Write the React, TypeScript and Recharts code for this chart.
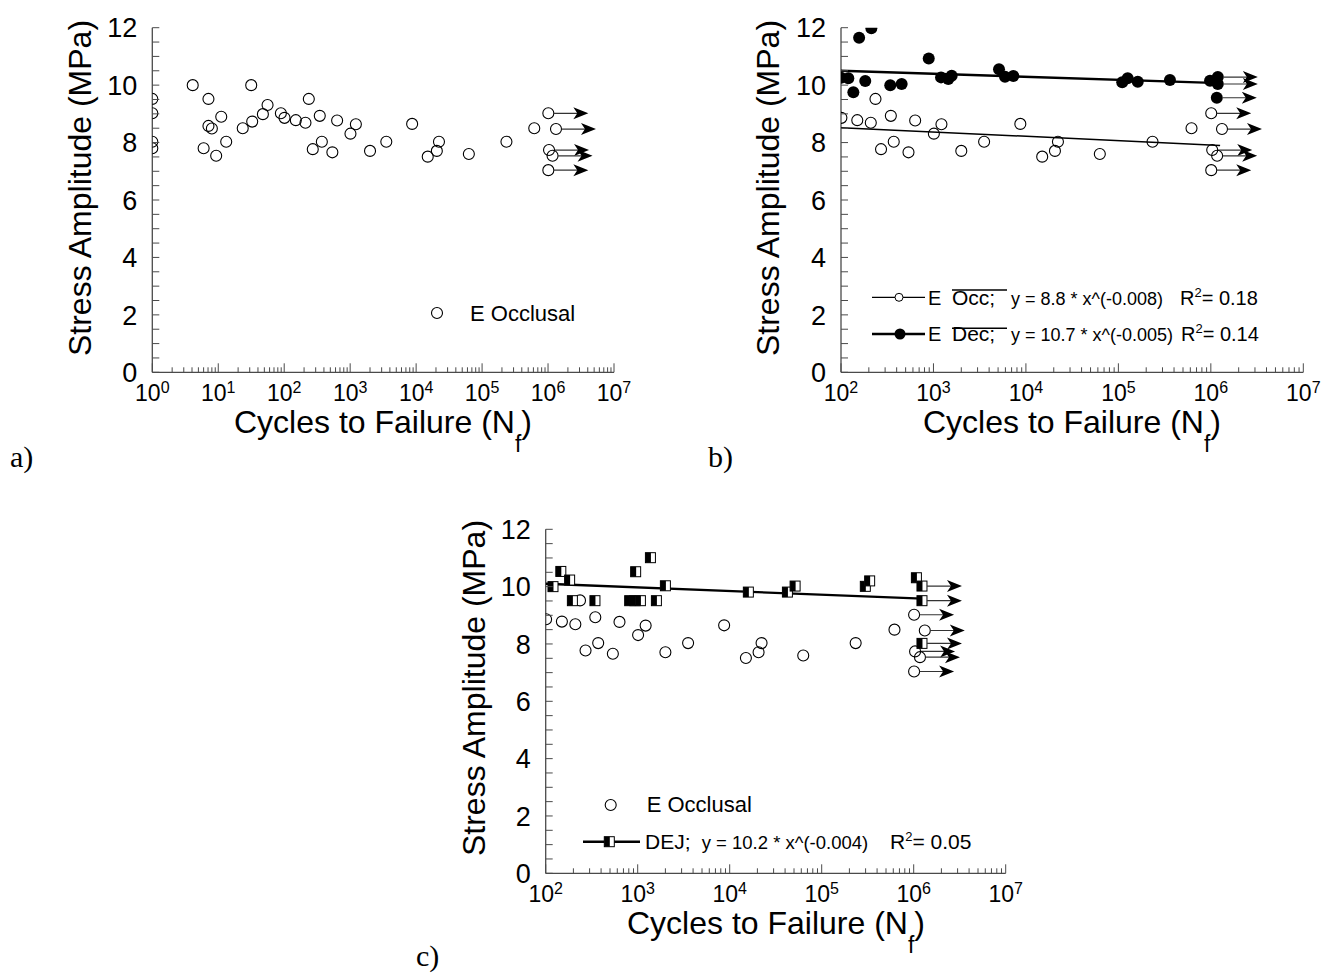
import React from "react";
import { ScatterChart, Scatter, XAxis, YAxis } from "recharts";

const SANS = '"Liberation Sans", Arial, Helvetica, sans-serif';
const SERIF = '"Liberation Serif", "Times New Roman", serif';
const AXIS = "#4a4a4a";

// tick labels
const stressLabels = [0, 2, 4, 6, 8, 10, 12];
const minorSteps = [2, 3, 4, 5, 6, 7, 8, 9];

// E Occlusal, failed specimens (cycles, MPa)
const occCycles = [1, 1, 1, 1, 4.1, 6.0, 7.1, 7.1, 8.0, 9.3, 11.1, 13.2, 23.5, 31.6, 32.7, 47.5, 55.9, 89, 101, 150, 210, 236, 271, 346, 372, 537, 634, 1010, 1220, 2000, 3530, 8700, 15000, 20600, 22200, 63000, 234000, 618000];
const occStress = [9.52, 9.02, 8.03, 7.8, 10.0, 7.8, 9.52, 8.58, 8.49, 7.54, 8.9, 8.03, 8.5, 10.0, 8.73, 8.99, 9.31, 9.02, 8.86, 8.78, 8.69, 9.52, 7.77, 8.93, 8.03, 7.66, 8.77, 8.31, 8.64, 7.71, 8.03, 8.65, 7.51, 7.71, 8.03, 7.6, 8.03, 8.5];
// E Occlusal run-outs
const occRunCycles = [1.01e6, 1.32e6, 1.035e6, 1.17e6, 1.01e6];
const occRunStress = [9.02, 8.47, 7.74, 7.54, 7.04];

// E Dec
const decCycles = [100, 120, 136, 157, 183, 213, 341, 453, 889, 1208, 1447, 1574, 5117, 5944, 7311, 110000, 126000, 162000, 361000, 980000];
const decStress = [10.26, 10.24, 9.75, 11.65, 10.14, 11.98, 10.0, 10.04, 10.93, 10.27, 10.21, 10.33, 10.55, 10.29, 10.32, 10.1, 10.24, 10.12, 10.18, 10.15];
const decRunCycles = [1.19e6, 1.19e6, 1.16e6];
const decRunStress = [10.28, 10.04, 9.56];

// DEJ
const dejCycles = [120, 146, 182, 195, 343, 818, 934, 1070, 950, 1375, 1597, 2000, 15950, 42400, 51400, 298000, 332000, 1.07e6];
const dejStress = [10.0, 10.53, 10.23, 9.51, 9.51, 9.51, 9.51, 9.51, 10.52, 11.01, 9.51, 10.03, 9.81, 9.81, 10.02, 10.01, 10.2, 10.31];
const dejRunCycles = [1.23e6, 1.23e6, 1.23e6];
const dejRunStress = [10.02, 9.51, 8.02];

// fitted lines, end points
const occFitCycles = [100, 1.26e6];
const occFitStress = [8.52, 7.9];
const decFitCycles = [100, 1.26e6];
const decFitStress = [10.5, 10.07];
const dejFitCycles = [100, 1.24e6];
const dejFitStress = [10.1, 9.58];

type Pt = { x: number; y: number };
const zip = (xs: number[], ys: number[]): Pt[] => xs.map((x, i) => ({ x, y: ys[i] }));

const occ = zip(occCycles, occStress);
const occRun = zip(occRunCycles, occRunStress);
const dec = zip(decCycles, decStress);
const decRun = zip(decRunCycles, decRunStress);
const dej = zip(dejCycles, dejStress);
const dejRun = zip(dejRunCycles, dejRunStress);
const occFit = zip(occFitCycles, occFitStress);
const decFit = zip(decFitCycles, decFitStress);
const dejFit = zip(dejFitCycles, dejFitStress);

const logTicks = (from: number, to: number) => {
  const out: number[] = [];
  for (let e = from; e <= to; e++) {
    out.push(10 ** e);
    if (e < to) minorSteps.forEach((m) => out.push(m * 10 ** e));
  }
  return out;
};
const yTicks = stressLabels.flatMap((v) => (v < 12 ? [v, v + 0.5, v + 1, v + 1.5] : [v]));

function XTick(props: any) {
  const { x, y, payload } = props;
  const lg = Math.log10(payload.value);
  const e = Math.round(lg);
  const major = Math.abs(lg - e) < 1e-9;
  return (
    <g>
      <line x1={x} x2={x} y1={y} y2={y - (major ? 9 : 5)} stroke={AXIS} strokeWidth={1} />
      {major && (
        <text x={x} y={y + 28.5} textAnchor="middle" fontFamily={SANS} fill="#000">
          <tspan fontSize={23}>10</tspan>
          <tspan fontSize={16} dy={-8}>{e}</tspan>
        </text>
      )}
    </g>
  );
}

function YTick(props: any) {
  const { x, y, payload } = props;
  const v = payload.value;
  return (
    <g>
      <line x1={x} x2={x + 7} y1={y} y2={y} stroke={AXIS} strokeWidth={1} />
      {stressLabels.includes(v) && (
        <text x={x - 15} y={y} dy="0.36em" textAnchor="end" fontSize={27} fontFamily={SANS} fill="#000">
          {v}
        </text>
      )}
    </g>
  );
}

const OpenCircle = (p: any) => <circle cx={p.cx} cy={p.cy} r={5.5} fill="none" stroke="#000" strokeWidth={1.1} />;
const FilledCircle = (p: any) => <circle cx={p.cx} cy={p.cy} r={6} fill="#000" />;
const HalfSquare = ({ cx, cy }: any) => (
  <g>
    <rect x={cx - 5} y={cy - 5} width={10} height={10} fill="#fff" stroke="#000" strokeWidth={1} />
    <rect x={cx - 5} y={cy - 5} width={5.5} height={10} fill="#000" />
  </g>
);
const arrow = (cx: number, cy: number, start: number) => (
  <g>
    <line x1={cx + start} x2={cx + 32} y1={cy} y2={cy} stroke="#333" strokeWidth={1.2} />
    <path d={`M${cx + 40},${cy} L${cx + 25},${cy - 6} L${cx + 29},${cy} L${cx + 25},${cy + 6} Z`} fill="#000" />
  </g>
);
const OpenRunout = (p: any) => (
  <g>
    <OpenCircle {...p} />
    {arrow(p.cx, p.cy, 5.5)}
  </g>
);
const FilledRunout = (p: any) => (
  <g>
    <FilledCircle {...p} />
    {arrow(p.cx, p.cy, 6)}
  </g>
);
const SquareRunout = (p: any) => (
  <g>
    <HalfSquare {...p} />
    {arrow(p.cx, p.cy, 5)}
  </g>
);
const NoDot = () => <g />;

function Panel({ left, top, width, height, margin, xFrom, children }: any) {
  return (
    <div style={{ position: "absolute", left, top }}>
      <ScatterChart width={width} height={height} margin={margin}>
        <XAxis
          type="number"
          dataKey="x"
          scale="log"
          domain={[10 ** xFrom, 1e7]}
          allowDataOverflow
          ticks={logTicks(xFrom, 7)}
          interval={0}
          tick={XTick}
          tickLine={false}
          tickSize={0}
          tickMargin={0}
          axisLine={{ stroke: AXIS, strokeWidth: 1.3 }}
          height={40}
        />
        <YAxis
          type="number"
          dataKey="y"
          domain={[0, 12]}
          allowDataOverflow
          ticks={yTicks}
          interval={0}
          tick={YTick}
          tickLine={false}
          tickSize={0}
          tickMargin={0}
          axisLine={{ stroke: AXIS, strokeWidth: 1.3 }}
          width={60}
        />
        {children}
      </ScatterChart>
    </div>
  );
}

const txt = { fontFamily: SANS, fill: "#000" } as const;

function XTitle({ x, y }: { x: number; y: number }) {
  return (
    <text x={x} y={y} textAnchor="middle" fontSize={32} {...txt}>
      Cycles to Failure (N
      <tspan fontSize={23} dy={19}>f</tspan>
      <tspan dy={-19}>)</tspan>
    </text>
  );
}
function YTitle({ x, y }: { x: number; y: number }) {
  return (
    <text transform={`translate(${x},${y}) rotate(-90)`} textAnchor="middle" fontSize={32} {...txt}>
      Stress Amplitude (MPa)
    </text>
  );
}
function R2({ x, y, v, size = 20 }: { x: number; y: number; v: string; size?: number }) {
  return (
    <text x={x} y={y} fontSize={size} {...txt}>
      R<tspan fontSize={13} dy={-8}>2</tspan>
      <tspan dy={8}>= {v}</tspan>
    </text>
  );
}

export default function App() {
  const occLate = occ.filter((d) => d.x >= 100);
  return (
    <div style={{ position: "absolute", left: 0, top: 0, width: 1334, height: 975, background: "#fff" }}>
      <Panel left={0} top={0} width={640} height={480} margin={{ top: 27.7, right: 26, bottom: 67.7, left: 92.3 }} xFrom={0}>
        <Scatter data={occ} shape={OpenCircle} isAnimationActive={false} />
        <Scatter data={occRun} shape={OpenRunout} isAnimationActive={false} />
      </Panel>

      <Panel left={700} top={0} width={634} height={480} margin={{ top: 27.7, right: 30.7, bottom: 67.7, left: 81 }} xFrom={2}>
        <Scatter data={occFit} line={{ stroke: "#000", strokeWidth: 1.5 }} shape={NoDot} isAnimationActive={false} />
        <Scatter data={decFit} line={{ stroke: "#000", strokeWidth: 2.4 }} shape={NoDot} isAnimationActive={false} />
        <Scatter data={occLate} shape={OpenCircle} isAnimationActive={false} />
        <Scatter data={occRun} shape={OpenRunout} isAnimationActive={false} />
        <Scatter data={dec} shape={FilledCircle} isAnimationActive={false} />
        <Scatter data={decRun} shape={FilledRunout} isAnimationActive={false} />
      </Panel>

      <Panel left={400} top={490} width={640} height={485} margin={{ top: 39.3, right: 34.3, bottom: 61.7, left: 85.7 }} xFrom={2}>
        <Scatter data={dejFit} line={{ stroke: "#000", strokeWidth: 2.4 }} shape={NoDot} isAnimationActive={false} />
        <Scatter data={occLate} shape={OpenCircle} isAnimationActive={false} />
        <Scatter data={occRun} shape={OpenRunout} isAnimationActive={false} />
        <Scatter data={dej} shape={HalfSquare} isAnimationActive={false} />
        <Scatter data={dejRun} shape={SquareRunout} isAnimationActive={false} />
      </Panel>

      <svg width={1334} height={975} style={{ position: "absolute", left: 0, top: 0, pointerEvents: "none" }}>
        {/* panel a */}
        <YTitle x={91} y={188} />
        <XTitle x={383} y={433} />
        <circle cx={437} cy={313} r={5.5} fill="none" stroke="#000" strokeWidth={1.1} />
        <text x={470} y={321} fontSize={22} {...txt}>E Occlusal</text>
        <text x={10} y={467} fontSize={30} fontFamily={SERIF}>a)</text>

        {/* panel b */}
        <YTitle x={779} y={188} />
        <XTitle x={1072} y={433} />
        <line x1={872} x2={925} y1={297.3} y2={297.3} stroke="#000" strokeWidth={1.2} />
        <circle cx={899} cy={297.3} r={4} fill="#fff" stroke="#000" strokeWidth={1} />
        <text x={928} y={304.5} fontSize={20} {...txt}>E</text>
        <text x={952} y={304.5} fontSize={21} {...txt}>Occ;</text>
        <line x1={952} x2={1007} y1={290} y2={290} stroke="#000" strokeWidth={1.5} />
        <text x={1011} y={304.5} fontSize={18} {...txt}>y = 8.8 * x^(-0.008)</text>
        <R2 x={1180} y={304.5} v="0.18" />
        <line x1={872} x2={925} y1={334} y2={334} stroke="#000" strokeWidth={2.5} />
        <circle cx={900} cy={334} r={5.5} fill="#000" />
        <text x={928} y={341} fontSize={20} {...txt}>E</text>
        <text x={952} y={341} fontSize={21} {...txt}>Dec;</text>
        <line x1={952} x2={1007} y1={328.3} y2={328.3} stroke="#000" strokeWidth={1.5} />
        <text x={1011} y={341} fontSize={18} {...txt}>y = 10.7 * x^(-0.005)</text>
        <R2 x={1181} y={341} v="0.14" />
        <text x={708} y={467} fontSize={30} fontFamily={SERIF}>b)</text>

        {/* panel c */}
        <YTitle x={485} y={688} />
        <XTitle x={776} y={934} />
        <circle cx={610.7} cy={805} r={5.5} fill="none" stroke="#000" strokeWidth={1.1} />
        <text x={646.7} y={812} fontSize={22} {...txt}>E Occlusal</text>
        <line x1={583} x2={640} y1={841.7} y2={841.7} stroke="#000" strokeWidth={2.5} />
        <rect x={604.3} y={836.7} width={10} height={10} fill="#fff" stroke="#000" strokeWidth={1} />
        <rect x={604.3} y={836.7} width={5.5} height={10} fill="#000" />
        <text x={645} y={849} fontSize={21} {...txt}>DEJ;</text>
        <text x={701.7} y={849} fontSize={18.5} {...txt}>y = 10.2 * x^(-0.004)</text>
        <R2 x={890} y={849} v="0.05" size={21} />
        <text x={416} y={966} fontSize={30} fontFamily={SERIF}>c)</text>
      </svg>
    </div>
  );
}
